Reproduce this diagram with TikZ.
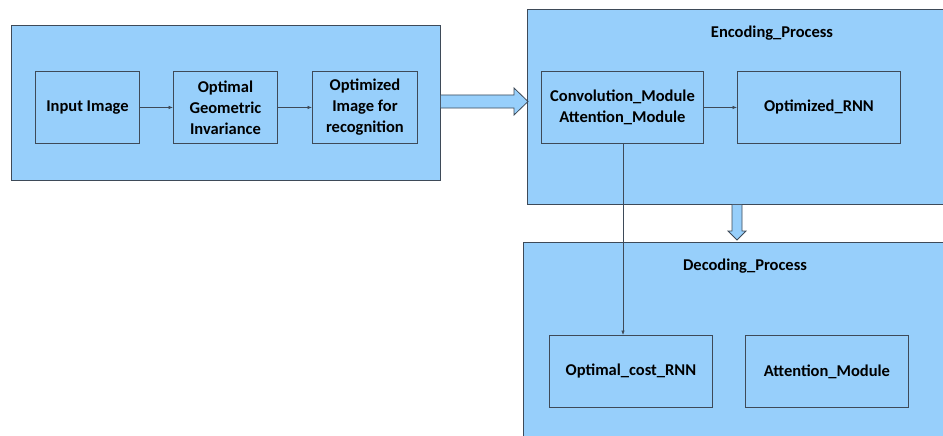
\documentclass[tikz,border=0pt]{standalone}
\usepackage{fontspec}
\setmainfont{Carlito}
\usetikzlibrary{calc,arrows.meta}
\definecolor{panelblue}{RGB}{151,207,251}
\definecolor{edgegray}{RGB}{62,74,88}
\tikzset{
  panel/.style={draw=edgegray, line width=0.9pt, fill=panelblue, anchor=north west, inner sep=0pt},
  stagebox/.style={draw=edgegray, line width=0.9pt, fill=panelblue, anchor=north west,
    inner sep=0pt, align=center, font=\fontsize{16.5}{21}\selectfont\bfseries},
  title/.style={font=\fontsize{16.5}{21}\selectfont\bfseries, inner sep=0pt},
  link/.style={draw=edgegray, line width=0.6pt, -{Latex[length=4.5pt,width=3.5pt]}},
  blockarrow/.style={draw=edgegray, line width=0.8pt, fill=panelblue, line join=miter}
}
\begin{document}
\begin{tikzpicture}[x=1pt,y=-1pt]
\useasboundingbox (0,0) rectangle (943,436);
\clip (0,0) rectangle (943,436);
\fill[white] (0,0) rectangle (943,436);

% preprocessing panel
\node[panel, minimum width=429, minimum height=155] (pre) at (11,25) {};
\node[stagebox, minimum width=104, minimum height=72] (input) at (35,71) {Input Image};
\node[stagebox, minimum width=104, minimum height=72] (geom) at (173,71) {Optimal\\Geometric\\Invariance};
\node[stagebox, minimum width=105, minimum height=72] (optimg) at (312,71) {Optimized\\Image for\\recognition};
\draw[link] (input.east) -- (geom.west);
\draw[link] (geom.east) -- (optimg.west);

% encoding panel
\node[panel, minimum width=430, minimum height=195] (enc) at (527,9) {};
\node[title] (enctitle) at (772,33) {Encoding\_Process};
\node[stagebox, minimum width=162, minimum height=72] (conv) at (541,71) {Convolution\_Module\\Attention\_Module};
\node[stagebox, minimum width=163, minimum height=72] (rnn) at (737,71) {Optimized\_RNN};
\draw[link] (conv.east) -- (rnn.west);

% decoding panel
\node[panel, minimum width=434, minimum height=210] (dec) at (523,242) {};
\node[title] (dectitle) at (745,266) {Decoding\_Process};
\node[stagebox, minimum width=163, minimum height=72] (costrnn) at (549,335) {Optimal\_cost\_RNN};
\node[stagebox, minimum width=163, minimum height=72] (attn) at (745,335) {Attention\_Module};
\draw[link] (conv.south -| 623,0) -- (costrnn.north -| 623,0);

% block arrow: preprocessing -> encoding
\draw[blockarrow]
  ($(pre.east |- 0,95)$) -- (514,95) -- (514,88) -- ($(enc.west |- 0,101.5)+(1,0)$)
  -- (514,115) -- (514,108) -- ($(pre.east |- 0,108)$);

% block arrow: encoding -> decoding
\draw[blockarrow]
  ($(enc.south -| 732,0)$) -- (732,231) -- (728,231) -- ($(dec.north -| 737,0)+(0,-2)$)
  -- (746,231) -- (742,231) -- ($(enc.south -| 742,0)$);
\end{tikzpicture}
\end{document}
